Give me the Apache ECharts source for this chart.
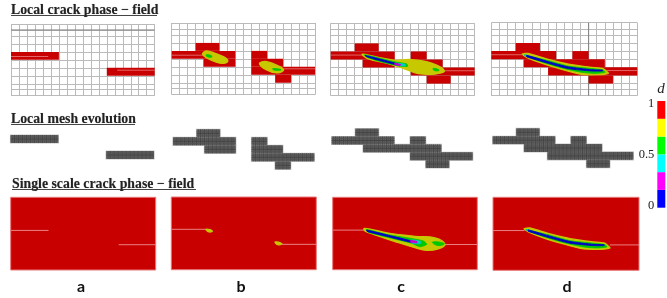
<!DOCTYPE html>
<html><head><meta charset="utf-8">
<script src="https://cdn.jsdelivr.net/npm/echarts@6/dist/echarts.min.js"></script>
<style>html,body{margin:0;padding:0;background:#fff}#c{width:667px;height:298px;filter:blur(.3px)}</style>
</head><body><div id="c"></div>
<script>
// ---- data (panel cell units: 18 columns x 9 rows, y measured from the top) ----
const panelNames = ['a','b','c','d'];
const rowLines = [0,.75,1.5,2.5,3.5,4.5,5.5,6.5,7.5,8.25,9];
const fieldOutline = [[0,0],[18,0],[18,9],[0,9]];
// blocks: [fromColumn, toColumn, topRow]
const phaseBlocksA = [[0,6,3.5],[12,18,5.5]];
const phaseBlocksB = [[3,6,2.5],[0,8,3.5],[4,8,4.5],[10,12,3.5],[10,14,4.5],[10,18,5.5],[13,15,6.5]];
const phaseBlocksC = [[3,6,2.5],[0,8,3.5],[4,8,4.5],[10,12,3.5],[10,14,4.5],[10,18,5.5],[12,15,6.5]];
const phaseBlocksD = [[3,6,2.5],[0,8,3.5],[10,12,3.5],[4,14,4.5],[7,18,5.5],[12,15,6.5]];
const meshBlocksC  = [[3,6,2.5],[0,8,3.5],[10,12,3.5],[4,14,4.5],[10,18,5.5],[12,15,6.5]];
// crack tails
const tailA1 = [[[0,4.08],[4.67,4.08]],[[13.3,5.8],[18,5.8]]];
const tailB1 = [[[0,4.04],[3.95,4.04]],[[14,5.75],[18,5.75]]];
const tailC1 = [[[0,3.95],[3.95,3.95]],[[14,5.9],[18,5.9]]];
const tailD1 = [[[0,3.95],[3.85,3.95]],[[14.2,5.9],[18,5.9]]];
const tailA3 = [[[0,4.1],[4.7,4.1]],[[13.4,5.87],[18,5.87]]];
const tailB3 = [[[0,4],[4.3,4]],[[13.73,5.86],[18,5.86]]];
const tailC3 = [[[0,4.08],[3.95,4.08]],[[14,5.87],[18,5.87]]];
const tailD3 = [[[0,4.1],[3.9,4.1]],[[14.4,5.87],[18,5.87]]];
// contours, local phase-field
const yellowB1L = [[3.97,3.7],[4.4,3.5],[5.44,3.8],[6.55,4.25],[7.05,4.75],[6.48,5.05],[5.44,4.85],[4.4,4.4],[3.9,3.98]];
const greenB1L  = [[4.35,3.98],[5,4.1],[5,4.3],[4.4,4.2]];
const yellowB1R = [[11.02,5.07],[11.93,4.85],[13.45,5.42],[14.05,5.9],[13.19,6.27],[11.93,5.9]];
const greenB1R  = [[12.7,5.72],[13.7,5.82],[13.7,5.92],[12.8,5.9]];
const yellowC1 = [[3.95,3.84],[5.58,4.15],[8.04,4.6],[9.9,4.5],[12.6,4.95],[14.2,5.92],[13.04,6.3],[10.95,6.25],[9.3,5.7],[7.2,5],[4.7,4.42]];
const greenC1  = [[4.2,3.92],[6,4.3],[8.3,4.85],[9.5,5.05],[9.6,5.35],[8.5,5.3],[6.5,4.85],[4.6,4.25]];
const cyanC1   = [[8.1,4.95],[9.3,5.1],[9.3,5.3],[8.2,5.2]];
const magentaC1= [[8,4.98],[8.75,5.13],[8.65,5.27],[8,5.12]];
const blueC1   = [[4.3,4],[6,4.4],[8.2,5],[8.5,5.12],[8.2,5.15],[6,4.6],[4.5,4.15]];
const greenC1T = [[12.8,5.6],[13.5,5.75],[13.5,5.9],[12.9,5.85]];
// contours, single scale
const yellowB3L = [[4.3,4],[4.8,4.05],[5.1,4.25],[4.7,4.33]];
const yellowB3R = [[12.87,5.57],[13.3,5.6],[13.73,5.8],[13.2,5.9]];
const yellowC3 = [[3.94,3.86],[6.93,4.45],[10.25,4.85],[12.74,5.05],[13.98,5.85],[13.15,6.4],[11.7,6.6],[10.25,6.27],[7.76,5.5],[4.86,4.52],[4,4.2]];
const greenC3  = [[4.2,4],[6.93,4.65],[10.25,5.2],[11.3,5.44],[11.7,5.85],[10.87,6.15],[9.84,5.72],[6.93,5],[4.43,4.35]];
const greenC3T = [[12.4,5.6],[13.2,5.55],[13.9,5.8],[13.1,6]];
const cyanC3   = [[9.7,5.3],[10.9,5.45],[10.9,5.75],[9.8,5.7]];
const magentaC3= [[9.7,5.38],[10.5,5.5],[10.5,5.65],[9.7,5.6]];
const blueC3   = [[4.23,4.07],[6.93,4.72],[9.84,5.44],[9.8,5.6],[6.93,4.9],[4.3,4.25]];
// contours, final state (both fields)
const yellowD = [[3.82,3.86],[4.56,3.78],[7.03,4.52],[9.5,5.1],[12.38,5.5],[13.69,5.63],[14.43,6.24],[13.2,6.41],[11.15,6.37],[8.68,5.75],[6.21,5],[4.36,4.27]];
const greenD  = [[4.07,3.98],[7.03,4.68],[9.5,5.35],[12.38,5.66],[13.8,5.83],[14.02,6.12],[12.78,6.24],[11.15,6.12],[8.68,5.58],[6.21,4.84],[4.36,4.15]];
const blueD   = [[4.36,4.02],[7.03,4.8],[9.5,5.45],[12.38,5.8],[13.7,5.85],[13.7,5.95],[12.38,5.95],[9.5,5.66],[7.03,5],[4.36,4.2]];
const cyanD   = [[4.1,3.98],[4.5,4],[4.5,4.2],[4.2,4.12]];
// colour bar
const barColors = ['#0000ff','#ff00ff','#00ffff','#00ff00','#ffff00','#ff0000'];
const barSegments = [1,1,1,1,1,1];
const barTicks = [0,0.5,1];

// ---- layout ----
const row1Boxes = [[11,24,143.7,71.7],[171.7,23,143.3,71.7],[330.7,23.3,144,72.4],[491.3,22.7,146,73]];
const row2Boxes = [[10.5,107,143.5,72],[173,109.3,141.3,72],[331.7,109,141,70.8],[492.7,108.7,140.6,70.8]];
const row3Boxes = [[10.7,197.3,145,72.7],[171.3,197,145,72.7],[332.7,197.3,144.6,72.4],[493,197.3,146,73]];
const RED='#c80000',YEL='#c8c800',GRN='#00c800',BLU='#0000c8',CYA='#00c8c8',MAG='#c800c8';

const grids=[],xAxes=[],yAxes=[],series=[];
function addGrid(box,lines){
  const i=grids.length;
  grids.push({left:box[0],top:box[1],width:box[2],height:box[3],containLabel:false});
  const ln={show:lines,lineStyle:{color:'#bababa',width:1}};
  xAxes.push({type:'value',gridIndex:i,min:0,max:18,interval:1,axisLine:{show:false},axisTick:{show:false},axisLabel:{show:false},splitLine:ln});
  yAxes.push({type:'value',gridIndex:i,min:0,max:9,inverse:true,axisLine:{show:false},axisTick:{show:false,customValues:rowLines},axisLabel:{show:false},splitLine:ln});
  return i;
}
function base(g,data,renderItem,z){return {type:'custom',xAxisIndex:g,yAxisIndex:g,coordinateSystem:'cartesian2d',clip:false,silent:true,z:z,data:data,renderItem:renderItem,encode:{x:0,y:1}};}
function blocks(g,list,color){
  series.push(base(g,list,(p,api)=>{
    const a=api.coord([api.value(0),api.value(2)]),b=api.coord([api.value(1),api.value(2)+1]);
    return {type:'rect',shape:{x:a[0],y:a[1],width:b[0]-a[0],height:b[1]-a[1]},style:{fill:color}};
  },3));
}
function meshBlocks(g,list){
  // light halo first, so that it shows only around the merged outline
  series.push(base(g,list,(p,api)=>{
    const a=api.coord([api.value(0),api.value(2)]),b=api.coord([api.value(1),api.value(2)+1]);
    return {type:'rect',shape:{x:a[0],y:a[1],width:b[0]-a[0],height:b[1]-a[1]},style:{fill:'#b8b8b8',stroke:'#c4c4c4',lineWidth:1.2}};
  },2));
  series.push(base(g,list,(p,api)=>{
    const x0=api.value(0),x1=api.value(1),y0=api.value(2),a=api.coord([x0,y0]),b=api.coord([x1,y0+1]);
    const kids=[{type:'rect',shape:{x:a[0],y:a[1],width:b[0]-a[0],height:b[1]-a[1]},style:{fill:'#626262'}}];
    for(let x=x0+.25;x<x1-.01;x+=.25){const q=api.coord([x,y0]);
      kids.push({type:'line',shape:{x1:q[0],y1:a[1],x2:q[0],y2:b[1]},style:{stroke:(x*2%1===0)?'#3f3f3f':'#525252',lineWidth:.8}});}
    for(let y=y0+.25;y<y0+.99;y+=.25){const q=api.coord([x0,y]);
      kids.push({type:'line',shape:{x1:a[0],y1:q[1],x2:b[0],y2:q[1]},style:{stroke:(y*2%1===0)?'#3f3f3f':'#525252',lineWidth:.8}});}
    return {type:'group',children:kids};
  },3));
}
function poly(g,pts,color,smooth,z){
  series.push(base(g,[pts[0]],(p,api)=>({type:'polygon',shape:{points:pts.map(q=>api.coord(q)),smooth:smooth===undefined?.4:smooth},style:{fill:color,stroke:color,lineWidth:smooth===0?0:(color===YEL?1.3:.9)}}),z||5));
}
function path(g,pts,color,w,z){
  series.push(base(g,[pts[0]],(p,api)=>({type:'polyline',shape:{points:pts.map(q=>api.coord(q))},style:{stroke:color,lineWidth:w,fill:null}}),z||4));
}
function outline(g,color,w){ path(g,[...fieldOutline,fieldOutline[0]],color,w,8); }

// row 1: local crack phase-field
const r1=row1Boxes.map(b=>addGrid(b,true));
blocks(r1[0],phaseBlocksA,RED); tailA1.forEach(t=>path(r1[0],t,'#e88080',.8));
blocks(r1[1],phaseBlocksB,RED); tailB1.forEach(t=>path(r1[1],t,'#e88080',.8));
blocks(r1[2],phaseBlocksC,RED); tailC1.forEach(t=>path(r1[2],t,'#e88080',.8));
blocks(r1[3],phaseBlocksD,RED); tailD1.forEach(t=>path(r1[3],t,'#e88080',.8));
path(r1[0],[[0,.75],[18,.75]],'#808080',1,2);
path(r1[3],[[12,0],[12,9]],'#808080',1,2);
poly(r1[1],yellowB1L,YEL);poly(r1[1],greenB1L,GRN,undefined,6);
poly(r1[1],yellowB1R,YEL);poly(r1[1],greenB1R,GRN,undefined,6);
poly(r1[2],yellowC1,YEL);poly(r1[2],greenC1,GRN,.2,6);poly(r1[2],cyanC1,CYA,.2,7);poly(r1[2],blueC1,BLU,.2,8);poly(r1[2],magentaC1,MAG,.2,9);poly(r1[2],greenC1T,GRN,undefined,6);
poly(r1[3],yellowD,YEL,.2);poly(r1[3],greenD,GRN,.2,6);poly(r1[3],cyanD,CYA,.2,7);poly(r1[3],blueD,BLU,.2,8);

// row 2: local mesh evolution
const r2=row2Boxes.map(b=>addGrid(b,false));
meshBlocks(r2[0],phaseBlocksA);
meshBlocks(r2[1],phaseBlocksB);
meshBlocks(r2[2],meshBlocksC);
meshBlocks(r2[3],phaseBlocksD);

// row 3: single scale crack phase-field
const r3=row3Boxes.map(b=>addGrid(b,false));
r3.forEach(g=>{poly(g,fieldOutline,RED,0,2);outline(g,'#e87878',1);});
tailA3.forEach(t=>path(r3[0],t,'#ee9090',.9));
tailB3.forEach(t=>path(r3[1],t,'#ee9090',.9));
tailC3.forEach(t=>path(r3[2],t,'#ee9090',.9));
tailD3.forEach(t=>path(r3[3],t,'#ee9090',.9));
poly(r3[1],yellowB3L,YEL);poly(r3[1],yellowB3R,YEL);
poly(r3[2],yellowC3,YEL);poly(r3[2],greenC3,GRN,.2,6);poly(r3[2],greenC3T,GRN,undefined,6);poly(r3[2],cyanC3,CYA,.2,7);poly(r3[2],blueC3,BLU,.2,8);poly(r3[2],magentaC3,MAG,.2,9);
poly(r3[3],yellowD,YEL,.2);poly(r3[3],greenD,GRN,.2,6);poly(r3[3],cyanD,CYA,.2,7);poly(r3[3],blueD,BLU,.2,8);

// colour bar
const cb=grids.length;
grids.push({left:657.3,top:101,width:8,height:106.7});
xAxes.push({type:'category',gridIndex:cb,data:['d'],show:false});
yAxes.push({type:'value',gridIndex:cb,min:0,max:6,show:false});
yAxes.push({type:'value',gridIndex:cb,position:'left',min:-.02,max:1.03,axisLine:{show:false},axisTick:{show:false,customValues:barTicks},splitLine:{show:false},
  axisLabel:{customValues:barTicks,margin:3,color:'#222',fontFamily:'Liberation Serif',fontSize:12.5,formatter:v=>String(v)}});
barColors.forEach((c,i)=>series.push({type:'bar',xAxisIndex:cb,yAxisIndex:cb,stack:'d',barWidth:'100%',itemStyle:{color:c},data:[barSegments[i]],silent:true}));

const heading={fontFamily:'Liberation Serif',fontWeight:'bold',fontSize:13.8,color:'#222',textShadowColor:'rgba(110,110,110,.5)',textShadowBlur:1,textShadowOffsetY:.6};
const letter={fontFamily:'Lato',fontWeight:'bold',fontSize:16,color:'#111'};
const titles=[
 {text:'Local crack phase − field',left:11,top:3,padding:0,textStyle:heading},
 {text:'Local mesh evolution',left:11,top:112,padding:0,textStyle:heading},
 {text:'Single scale crack phase − field',left:12,top:177,padding:0,textStyle:heading},
 ...panelNames.map((n,i)=>({text:n,left:[81,241,401,567][i],top:279,padding:0,textAlign:'center',textStyle:letter})),
 {text:'d',left:661,top:82,padding:0,textAlign:'center',textStyle:{fontFamily:'Liberation Serif',fontStyle:'italic',fontSize:15,fontWeight:'normal',color:'#222'}}
];
const rule=(x1,x2,y)=>({type:'line',silent:true,shape:{x1:x1,y1:y,x2:x2,y2:y},style:{stroke:'#444',lineWidth:1.2}});
const chart=echarts.init(document.getElementById('c'),null,{renderer:'canvas'});
chart.setOption({animation:false,backgroundColor:'#fff',title:titles,grid:grids,xAxis:xAxes,yAxis:yAxes,series:series,
  graphic:[rule(11,157,15.5),rule(11,135,124.5),rule(12,196,189.5)]});
</script></body></html>
